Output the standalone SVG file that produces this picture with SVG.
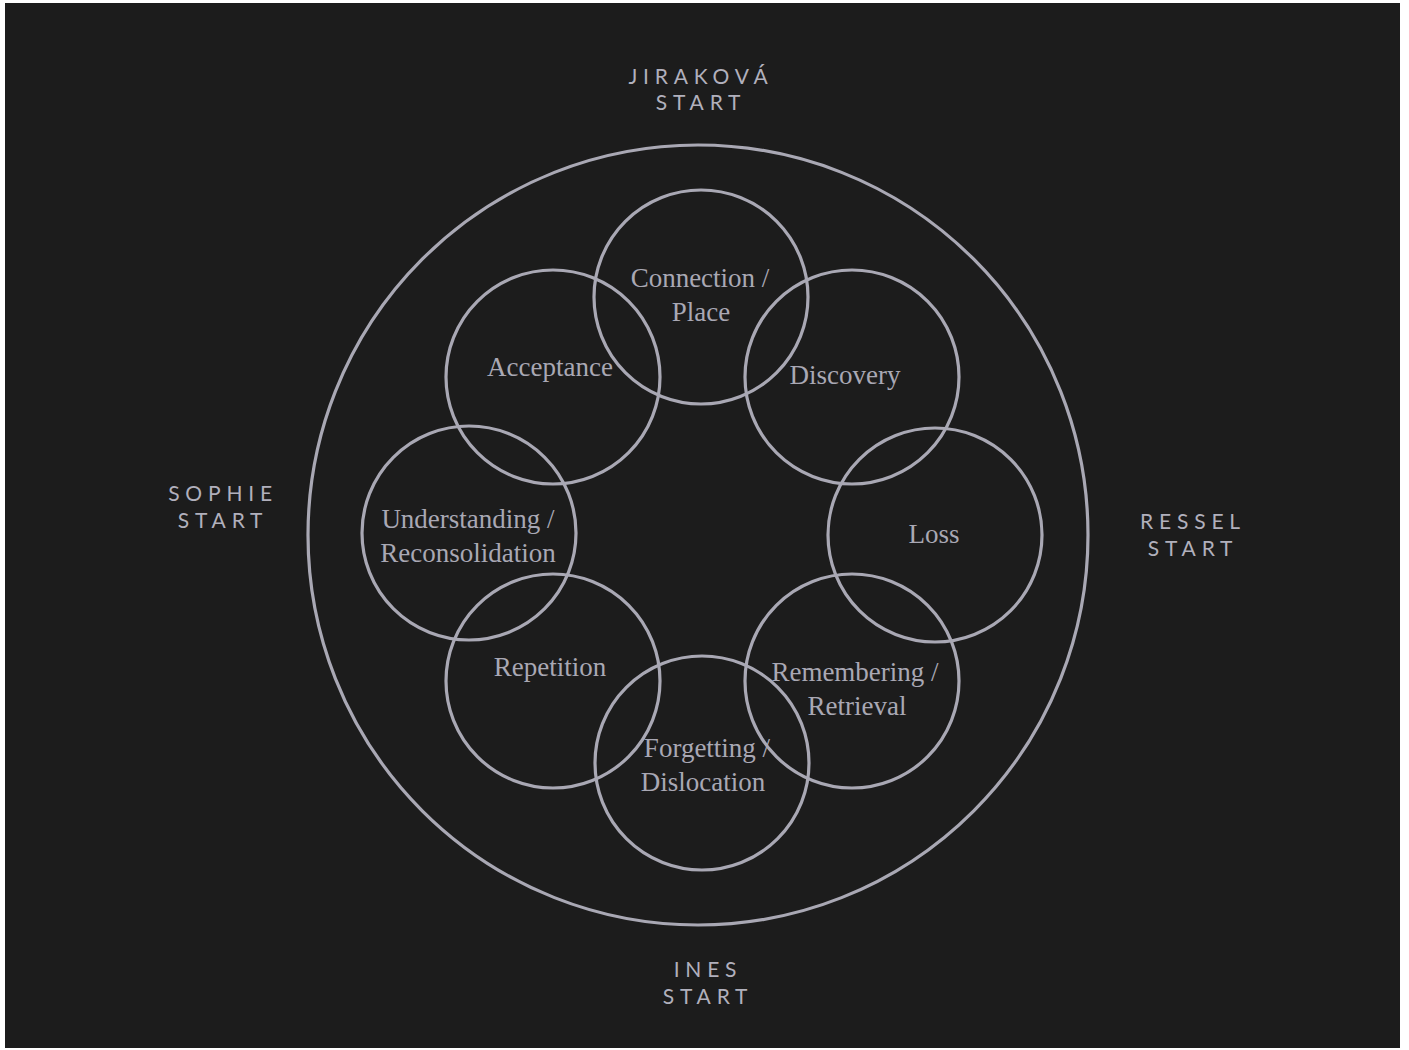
<svg xmlns="http://www.w3.org/2000/svg" width="1409" height="1050" viewBox="0 0 1409 1050">
  <style>
    .ring { fill: none; stroke: #a9a8b4; stroke-width: 3.2; }
    .stage { font-family: "Liberation Serif", "Times New Roman", serif; font-size: 27px; fill: #a9a8b4; text-anchor: middle; }
    .start { font-family: Lato, "Open Sans", "Liberation Sans", sans-serif; font-size: 21px; fill: #b1b0bc; text-anchor: middle; letter-spacing: 5.8px; }
  </style>
  <rect x="0" y="0" width="1409" height="1050" fill="#ffffff"/>
  <rect x="5" y="3" width="1395" height="1045" fill="#1c1c1c"/>

  <!-- enclosing ring -->
  <g id="outer-ring">
    <circle class="ring" cx="698" cy="535" r="390"/>
  </g>

  <!-- stage circles -->
  <g id="connection-place">
    <circle class="ring" cx="701" cy="297" r="107"/>
    <text class="stage" x="700" y="287">Connection /</text>
    <text class="stage" x="701" y="321">Place</text>
  </g>
  <g id="discovery">
    <circle class="ring" cx="852" cy="377" r="107"/>
    <text class="stage" x="845" y="384">Discovery</text>
  </g>
  <g id="loss">
    <circle class="ring" cx="935" cy="535" r="107"/>
    <text class="stage" x="934" y="543">Loss</text>
  </g>
  <g id="remembering-retrieval">
    <circle class="ring" cx="852" cy="681" r="107"/>
    <text class="stage" x="855" y="681">Remembering /</text>
    <text class="stage" x="857" y="715">Retrieval</text>
  </g>
  <g id="forgetting-dislocation">
    <circle class="ring" cx="702" cy="763" r="107"/>
    <text class="stage" x="707" y="757">Forgetting /</text>
    <text class="stage" x="703" y="791">Dislocation</text>
  </g>
  <g id="repetition">
    <circle class="ring" cx="553" cy="681" r="107"/>
    <text class="stage" x="550" y="676">Repetition</text>
  </g>
  <g id="understanding-reconsolidation">
    <circle class="ring" cx="469" cy="533" r="107"/>
    <text class="stage" x="468" y="528">Understanding /</text>
    <text class="stage" x="468" y="562">Reconsolidation</text>
  </g>
  <g id="acceptance">
    <circle class="ring" cx="553" cy="377" r="107"/>
    <text class="stage" x="550" y="376">Acceptance</text>
  </g>

  <!-- starting points -->
  <g id="jirakova-start">
    <text class="start" x="701" y="84">JIRAKOVÁ</text>
    <text class="start" x="701" y="110">START</text>
  </g>
  <g id="sophie-start">
    <text class="start" x="223" y="501">SOPHIE</text>
    <text class="start" x="223" y="528">START</text>
  </g>
  <g id="ressel-start">
    <text class="start" x="1193" y="529">RESSEL</text>
    <text class="start" x="1193" y="556">START</text>
  </g>
  <g id="ines-start">
    <text class="start" x="708" y="977">INES</text>
    <text class="start" x="708" y="1004">START</text>
  </g>

  <g id="connectors"/>
</svg>
